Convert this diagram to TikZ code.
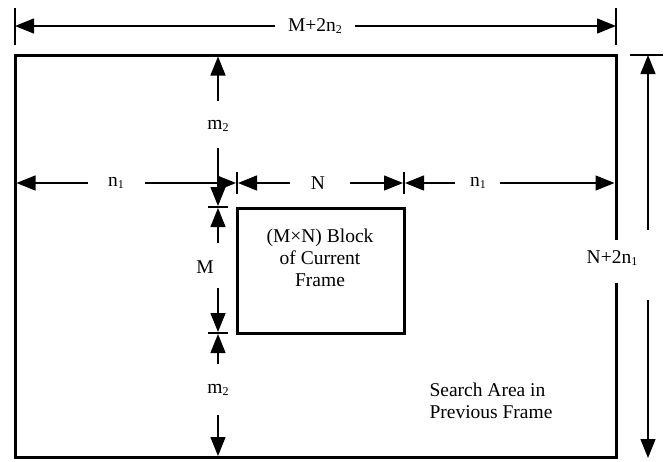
\documentclass[tikz,border=0pt]{standalone}
\usepackage{fontspec}
\setmainfont{Liberation Serif}
\usetikzlibrary{arrows.meta}
\newcommand{\lowidx}[1]{\raisebox{-0.3ex}{\fontsize{12}{12}\selectfont #1}}
\begin{document}
\begin{tikzpicture}[x=1pt,y=-1pt,
  dim/.style={line width=1.3pt, -{Triangle[length=19pt,width=15pt]}},
  ext/.style={line width=1.3pt},
  frm/.style={line width=3pt, line join=miter},
  lbl/.style={font=\fontsize{19.5}{22}\selectfont, inner sep=0pt},
]
\useasboundingbox (0,0) rectangle (670,461);

% outer search area
\draw[frm] (616,240) -- (616,55) -- (15,55) -- (15,457.5) -- (616,457.5) -- (616,283);
% inner block
\draw[frm] (237,208) rectangle (404,333);
\node[lbl, align=center] (blk) at (320,258) {(M\texttimes N) Block\\of Current\\Frame};
\node[lbl, align=left] (sa) at (491,401) {Search Area in\\Previous Frame};

% top dimension M+2n2
\draw[ext] (15,8) -- (15,45);
\draw[ext] (616,8) -- (616,45);
\coordinate (tL) at (15,26);
\coordinate (tR) at (616,26);
\coordinate (tA) at (275,26);
\coordinate (tB) at (355,26);
\node[lbl] (tw) at (315,26) {M+2n\lowidx{2}};
\draw[dim] (tA) -- (tL);
\draw[dim] (tB) -- (tR);

% right dimension N+2n1
\draw[ext] (630,55) -- (663,55);
\coordinate (rT) at (648,55);
\coordinate (rB) at (648,458);
\coordinate (rA) at (648,230);
\coordinate (rC) at (648,300);
\node[lbl] (rh) at (612,258) {N+2n\lowidx{1}};
\draw[dim] (rA) -- (rT);
\draw[dim] (rC) -- (rB);

% horizontal dimensions at y=183
\draw[ext] (237,172) -- (237,194);
\draw[ext] (404,172) -- (404,194);
\coordinate (hL) at (16.5,183);
\coordinate (hB1) at (236,183);
\coordinate (hB2) at (238,183);
\coordinate (hC1) at (403,183);
\coordinate (hC2) at (405,183);
\coordinate (hR) at (614.5,183);
\node[lbl] (n1l) at (116,183) {n\lowidx{1}};
\node[lbl] (nN) at (318,183) {N};
\node[lbl] (n1r) at (478,183) {n\lowidx{1}};
\coordinate (a1) at (88,183);
\coordinate (a2) at (145,183);
\coordinate (a3) at (290,183);
\coordinate (a4) at (350,183);
\coordinate (a5) at (455,183);
\coordinate (a6) at (500,183);
\draw[dim] (a1) -- (hL);
\draw[dim] (a2) -- (hB1);
\draw[dim] (a3) -- (hB2);
\draw[dim] (a4) -- (hC1);
\draw[dim] (a5) -- (hC2);
\draw[dim] (a6) -- (hR);

% vertical dimensions at x=218
\draw[ext] (208,207) -- (228,207);
\draw[ext] (208,333) -- (228,333);
\coordinate (vT) at (218,56.5);
\coordinate (vB1) at (218,206);
\coordinate (vB2) at (218,208);
\coordinate (vC1) at (218,332);
\coordinate (vC2) at (218,334);
\coordinate (vD) at (218,456);
\node[lbl] (m2t) at (218,126) {m\lowidx{2}};
\node[lbl] (mM) at (205,267) {M};
\node[lbl] (m2b) at (218,390) {m\lowidx{2}};
\coordinate (b1) at (218,101);
\coordinate (b2) at (218,148);
\coordinate (b3) at (218,243);
\coordinate (b4) at (218,288);
\coordinate (b5) at (218,364);
\coordinate (b6) at (218,415);
\draw[dim] (b1) -- (vT);
\draw[dim] (b2) -- (vB1);
\draw[dim] (b3) -- (vB2);
\draw[dim] (b4) -- (vC1);
\draw[dim] (b5) -- (vC2);
\draw[dim] (b6) -- (vD);
\end{tikzpicture}
\end{document}
